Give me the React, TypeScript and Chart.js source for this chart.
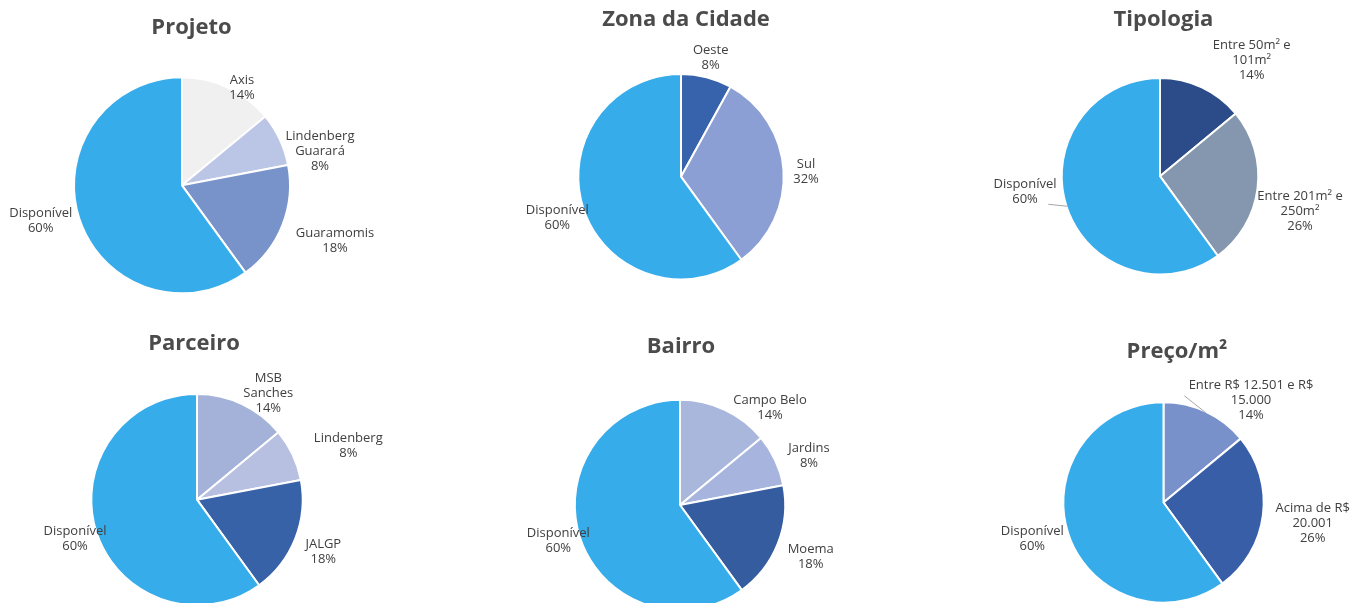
import React, { useEffect, useRef } from "react";
import { Chart, registerables } from "chart.js";

Chart.register(...registerables);

// ---------- DATA ----------
const projetoCategories = ["Axis", ["Lindenberg", "Guarará"], "Guaramomis", "Disponível"];
const projetoValues = [14, 8, 18, 60];

const zonaCategories = ["Oeste", "Sul", "Disponível"];
const zonaValues = [8, 32, 60];

const tipologiaCategories = [["Entre 50m² e", "101m²"], ["Entre 201m² e", "250m²"], "Disponível"];
const tipologiaValues = [14, 26, 60];

const parceiroCategories = [["MSB", "Sanches"], "Lindenberg", "JALGP", "Disponível"];
const parceiroValues = [14, 8, 18, 60];

const bairroCategories = ["Campo Belo", "Jardins", "Moema", "Disponível"];
const bairroValues = [14, 8, 18, 60];

const precoCategories = [["Entre R$ 12.501 e R$", "15.000"], ["Acima de R$", "20.001"], "Disponível"];
const precoValues = [14, 26, 60];

// ---------- STYLES / LAYOUT ----------
const BLUE_AVAILABLE = "#37ACEA";
const projetoColors = ["#F0F0F0", "#BBC5E5", "#7892CA", BLUE_AVAILABLE];
const zonaColors = ["#3763AD", "#8C9FD5", BLUE_AVAILABLE];
const tipologiaColors = ["#2B4C88", "#8597AF", BLUE_AVAILABLE];
const parceiroColors = ["#A4B2DA", "#B7C0E1", "#3762A8", BLUE_AVAILABLE];
const bairroColors = ["#A9B7DC", "#A6B4DE", "#345C9E", BLUE_AVAILABLE];
const precoColors = ["#7891CA", "#385EA8", BLUE_AVAILABLE];

const TITLE_FONT = "bold 22px 'Open Sans'";
const TITLE_COLOR = "#4B4B4B";
const LABEL_FONT = "13px 'Open Sans'";
const LABEL_COLOR = "#404040";
const LINE_HEIGHT = 15;
const BORDER = 2;

type Panel = {
  title: string;
  categories: (string | string[])[];
  values: number[];
  colors: string[];
  cell: { x: number; y: number; w: number; h: number };
  center: [number, number];
  radius: number;
  titlePos: [number, number];
  labelOffsets: [number, number][];
  leaders: ([number, number] | null)[];
};

const PANELS: Panel[] = [
  {
    title: "Projeto",
    categories: projetoCategories,
    values: projetoValues,
    colors: projetoColors,
    cell: { x: 0, y: 0, w: 450, h: 301 },
    center: [182, 185.3],
    radius: 108,
    titlePos: [191.5, 28],
    labelOffsets: [[60, -97.8], [138, -33.6], [153, 55.2], [-141.3, 35.7]],
    leaders: [null, null, null, null],
  },
  {
    title: "Zona da Cidade",
    categories: zonaCategories,
    values: zonaValues,
    colors: zonaColors,
    cell: { x: 450, y: 0, w: 450, h: 301 },
    center: [681, 176.7],
    radius: 102.7,
    titlePos: [686, 20],
    labelOffsets: [[29.7, -119.2], [125, -5.2], [-123.7, 41]],
    leaders: [null, null, null],
  },
  {
    title: "Tipologia",
    categories: tipologiaCategories,
    values: tipologiaValues,
    colors: tipologiaColors,
    cell: { x: 900, y: 0, w: 452, h: 301 },
    center: [1160, 176.2],
    radius: 98.3,
    titlePos: [1163.5, 20],
    labelOffsets: [[91.7, -116.2], [140, 35.5], [-135, 15.8]],
    leaders: [null, null, [-111.7, 28.1]],
  },
  {
    title: "Parceiro",
    categories: parceiroCategories,
    values: parceiroValues,
    colors: parceiroColors,
    cell: { x: 0, y: 301, w: 450, h: 330 },
    center: [197, 499.7],
    radius: 105.7,
    titlePos: [194, 344],
    labelOffsets: [[71.3, -106.8], [151.3, -53.5], [126.3, 51.8], [-122, 39.1]],
    leaders: [null, null, null, null],
  },
  {
    title: "Bairro",
    categories: bairroCategories,
    values: bairroValues,
    colors: bairroColors,
    cell: { x: 450, y: 301, w: 450, h: 330 },
    center: [680, 505],
    radius: 105.2,
    titlePos: [681, 346.7],
    labelOffsets: [[90, -97.5], [129, -49.7], [130.7, 51.8], [-121.7, 36.2]],
    leaders: [null, null, null, null],
  },
  {
    title: "Preço/m²",
    categories: precoCategories,
    values: precoValues,
    colors: precoColors,
    cell: { x: 900, y: 301, w: 452, h: 330 },
    center: [1163.5, 502.5],
    radius: 100.2,
    titlePos: [1177, 352],
    labelOffsets: [[87.5, -102], [149.2, 20.8], [-131.2, 36.3]],
    leaders: [[20.8, -106.8], null, null],
  },
];

const labelPlugin = {
  id: "pieLabels",
  afterDatasetsDraw(chart: any) {
    const panel: Panel = chart.options.plugins.pieLabels.panel;
    const ctx: CanvasRenderingContext2D = chart.ctx;
    const meta = chart.getDatasetMeta(0);
    const data = chart.data.datasets[0].data as number[];
    const labels = chart.data.labels as (string | string[])[];
    ctx.save();

    // title
    ctx.font = TITLE_FONT;
    ctx.fillStyle = TITLE_COLOR;
    ctx.textAlign = "center";
    ctx.textBaseline = "middle";
    ctx.fillText(panel.title, panel.titlePos[0] - panel.cell.x, panel.titlePos[1] - panel.cell.y);

    meta.data.forEach((arc: any, i: number) => {
      const cx = arc.x;
      const cy = arc.y;
      const off = panel.labelOffsets[i];
      const lx = cx + off[0];
      const ly = cy + off[1];
      const name = labels[i];
      const lines = (Array.isArray(name) ? [...name] : [name]).concat([data[i] + "%"]);
      ctx.font = LABEL_FONT;
      ctx.fillStyle = LABEL_COLOR;
      ctx.textAlign = "center";
      ctx.textBaseline = "middle";
      const startY = ly - ((lines.length - 1) * LINE_HEIGHT) / 2;
      lines.forEach((t, k) => ctx.fillText(t, lx, startY + k * LINE_HEIGHT));

      const lead = panel.leaders[i];
      if (lead) {
        const mid = (arc.startAngle + arc.endAngle) / 2;
        const ex = cx + Math.cos(mid) * (arc.outerRadius - 1);
        const ey = cy + Math.sin(mid) * (arc.outerRadius - 1);
        ctx.strokeStyle = "#A6A6A6";
        ctx.lineWidth = 1;
        ctx.beginPath();
        ctx.moveTo(cx + lead[0], cy + lead[1]);
        ctx.lineTo(ex, ey);
        ctx.stroke();
      }
    });
    ctx.restore();
  },
};

function PieCanvas({ panel }: { panel: Panel }) {
  const ref = useRef<HTMLCanvasElement | null>(null);
  useEffect(() => {
    if (!ref.current) return;
    const s = 2 * panel.radius + BORDER;
    const left = panel.center[0] - panel.cell.x - s / 2;
    const top = panel.center[1] - panel.cell.y - s / 2;
    const right = panel.cell.w - left - s;
    const bottom = panel.cell.h - top - s;
    const chart = new Chart(ref.current, {
      type: "pie",
      data: {
        labels: panel.categories as any,
        datasets: [
          {
            data: panel.values,
            backgroundColor: panel.colors,
            borderColor: "#FFFFFF",
            borderWidth: BORDER,
            hoverBorderWidth: BORDER,
            hoverOffset: 0,
            offset: 0,
          },
        ],
      },
      options: {
        animation: false,
        responsive: false,
        events: [],
        layout: { padding: { left, top, right, bottom } },
        plugins: {
          legend: { display: false },
          tooltip: { enabled: false },
          title: { display: false },
          pieLabels: { panel },
        } as any,
      },
      plugins: [labelPlugin],
    });
    return () => chart.destroy();
  }, [panel]);
  return (
    <canvas
      ref={ref}
      width={panel.cell.w}
      height={panel.cell.h}
      style={{
        position: "absolute",
        left: panel.cell.x,
        top: panel.cell.y,
        width: panel.cell.w,
        height: panel.cell.h,
      }}
    />
  );
}

export default function App() {
  return (
    <div
      style={{
        position: "fixed",
        left: 0,
        top: 0,
        width: 1352,
        height: 603,
        overflow: "hidden",
        background: "#FFFFFF",
      }}
    >
      {PANELS.map((p) => (
        <PieCanvas key={p.title} panel={p} />
      ))}
    </div>
  );
}
